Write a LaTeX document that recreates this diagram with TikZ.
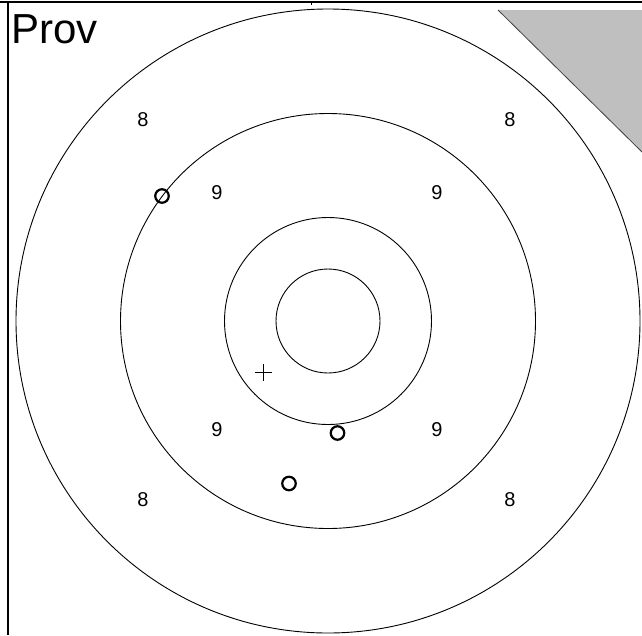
\documentclass[tikz,border=0pt]{standalone}
\usepackage{fontspec}
\setmainfont{Liberation Sans}
\definecolor{cornergray}{gray}{0.75}

\begin{document}
\begin{tikzpicture}[
  x=1pt, y=-1pt,
  frame/.style={draw=black, line width=1.4pt},
  ring/.style={draw=black, line width=0.9pt},
  score/.style={font=\fontsize{20}{20}\selectfont, inner sep=0pt},
  shot/.style={circle, draw=black, line width=2.2pt, minimum size=13.5pt, inner sep=0pt},
  aim/.style={draw=black, line width=1pt}
]
\useasboundingbox (0,0) rectangle (642,635);
% frame and corner
\draw[frame] (0,2) -- (642,2);
\draw[frame] (8,2) -- (8,635);
\draw[line width=1pt] (311,2) -- (311,4.5);
\fill[cornergray] (498,10) -- (642,10) -- (642,152) -- cycle;
\draw[black!75, line width=0.8pt] (498,10) -- (642,152);
\node[anchor=base west, inner sep=0pt, font=\fontsize{42}{42}\selectfont] (title) at (11,43) {Prov};
% rings
\coordinate (centre) at (328,321);
\draw[ring] (centre) circle[radius=312pt];
\draw[ring] (centre) circle[radius=207.5pt];
\draw[ring] (centre) circle[radius=103.5pt];
\draw[ring] (centre) circle[radius=52pt];
% ring values
\node[score] (eightnw) at (143,120) {8};
\node[score] (eightne) at (510,120) {8};
\node[score] (eightsw) at (143,500) {8};
\node[score] (eightse) at (510,500) {8};
\node[score] (ninenw) at (217,193) {9};
\node[score] (ninene) at (437,193) {9};
\node[score] (ninesw) at (217,430) {9};
\node[score] (ninese) at (437,430) {9};
% shots
\node[shot] (shota) at (162,196) {};
\node[shot] (shotb) at (337.5,433) {};
\node[shot] (shotc) at (289,483.5) {};
\coordinate (mean) at (263,372);
\draw[aim] ([xshift=-8.5pt]mean) -- ([xshift=8.5pt]mean);
\draw[aim] ([yshift=-8.5pt]mean) -- ([yshift=8.5pt]mean);
\end{tikzpicture}
\end{document}
